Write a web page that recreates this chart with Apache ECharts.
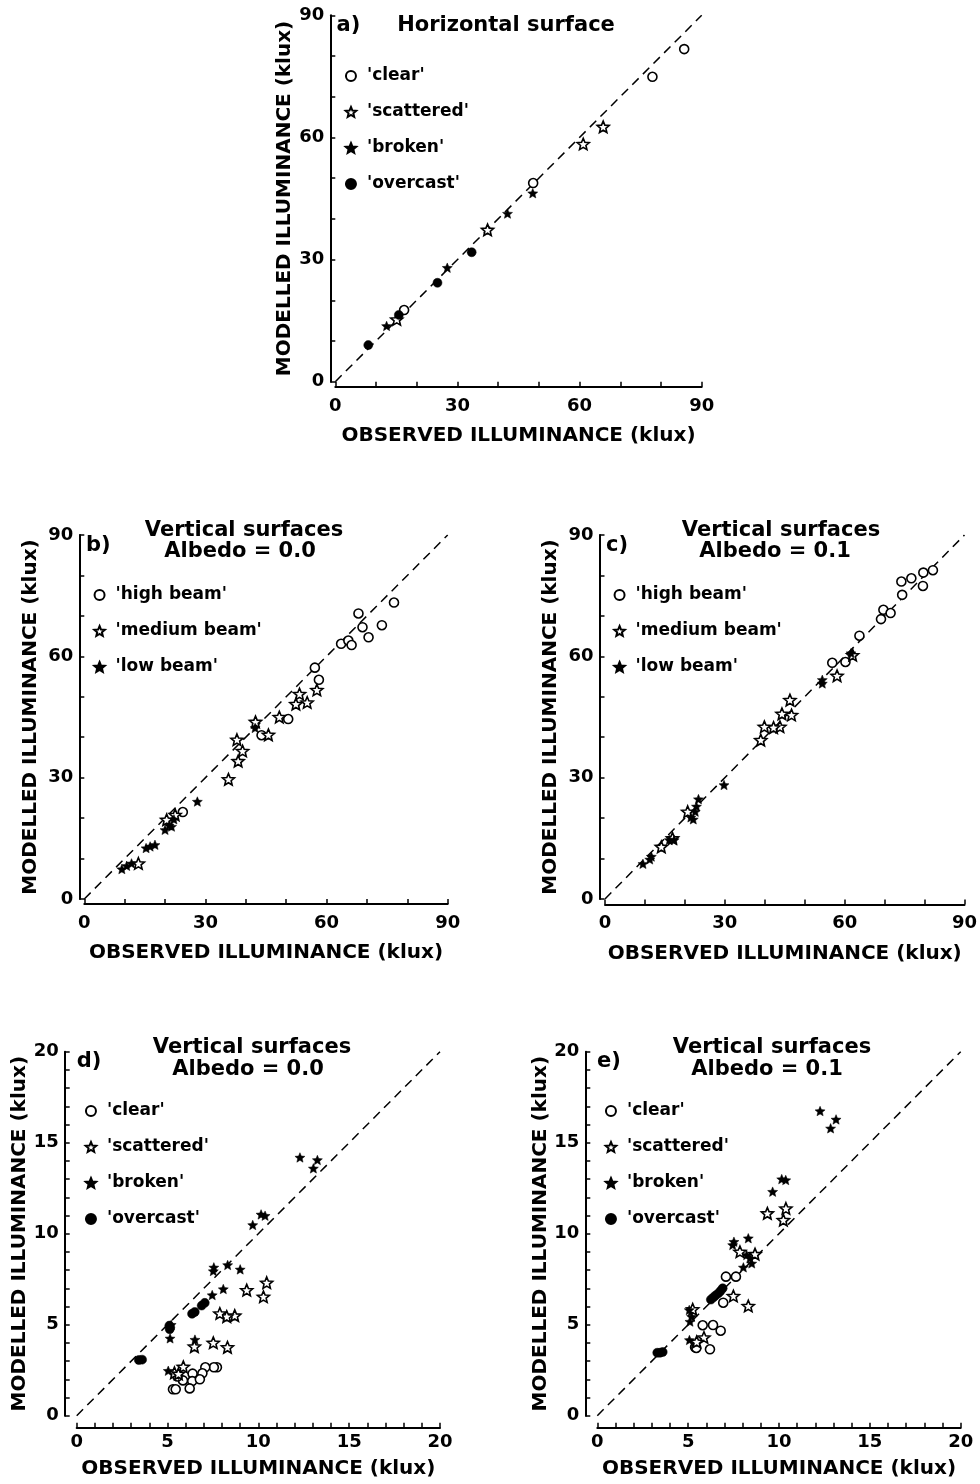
<!DOCTYPE html>
<html><head><meta charset="utf-8">
<script src="https://cdn.jsdelivr.net/npm/echarts@6/dist/echarts.min.js"></script>
<style>html,body{margin:0;padding:0;background:#fff}#c{width:980px;height:1484px}</style>
</head><body><div id="c"></div>
<script>
// ---------- tick labels ----------
const ticks90 = [0, 30, 60, 90];
const ticks20 = [0, 5, 10, 15, 20];
const diag90 = [[0, 0], [90, 90]];
const diag20 = [[0, 0], [20, 20]];

// ---------- series names ----------
const cloudNames = ["'clear'", "'scattered'", "'broken'", "'overcast'"];
const beamNames = ["'high beam'", "'medium beam'", "'low beam'"];

// ---------- panel a) horizontal surface ----------
const aClear = [[85.7, 81.7], [77.9, 74.9], [48.6, 48.8], [16.9, 17.6]];
const aScattered = [[65.8, 62.6], [60.9, 58.4], [37.4, 37.3], [15.1, 15.3]];
const aBroken = [[48.5, 46.3], [42.3, 41.3], [27.5, 28.0], [12.6, 13.7]];
const aOvercast = [[33.5, 31.8], [25.1, 24.3], [8.1, 9.0], [15.6, 16.4]];

// ---------- panel b) vertical, albedo 0.0 ----------
const bHigh = [[76.7, 73.3], [67.9, 70.6], [68.9, 67.2], [73.7, 67.7], [70.4, 64.7], [63.6, 63.1], [65.4, 63.9], [66.2, 62.8], [57.1, 57.2], [58.1, 54.2], [50.5, 44.5], [43.9, 40.5], [24.4, 21.5]];
const bMedium = [[53.3, 50.7], [52.4, 48.2], [55.2, 48.6], [57.6, 51.7], [48.3, 45.0], [45.6, 40.6], [37.8, 39.4], [39.2, 36.6], [38.1, 34.1], [35.7, 29.6], [42.4, 43.8], [20.4, 19.6], [22.5, 20.8], [13.4, 8.8]];
const bLow = [[28.0, 24.1], [42.3, 42.3], [22.2, 19.7], [21.6, 17.9], [20.0, 17.1], [21.0, 18.2], [17.5, 13.4], [16.3, 13.0], [15.3, 12.6], [11.7, 8.8], [10.5, 8.2], [9.3, 7.4]];

// ---------- panel c) vertical, albedo 0.1 ----------
const cHigh = [[82.1, 81.3], [79.7, 80.7], [76.7, 79.3], [74.2, 78.5], [79.6, 77.4], [74.4, 75.2], [69.7, 71.5], [71.5, 70.7], [69.1, 69.2], [63.7, 65.1], [56.9, 58.4], [60.2, 58.6]];
const cMedium = [[62.0, 60.3], [58.1, 55.2], [46.3, 49.2], [46.7, 45.5], [44.3, 45.8], [43.8, 42.6], [42.2, 42.4], [39.9, 42.6], [39.0, 39.3], [20.7, 21.6], [14.1, 12.9], [16.9, 15.0]];
const cLow = [[54.4, 54.2], [54.4, 53.3], [61.6, 60.8], [29.8, 28.2], [23.4, 24.7], [22.9, 22.9], [22.6, 21.6], [21.5, 20.2], [22.1, 19.7], [16.1, 14.6], [17.3, 14.6], [11.6, 10.5], [11.2, 9.8], [9.5, 8.7]];

// ---------- panel d) vertical, albedo 0.0 (low range) ----------
const dClear = [[7.72, 2.66], [7.55, 2.66], [7.08, 2.66], [6.92, 2.33], [6.38, 2.31], [5.85, 1.94], [6.36, 1.9], [6.78, 2.0], [5.55, 2.15], [5.3, 1.45], [5.45, 1.45], [6.22, 1.5]];
const dScattered = [[10.46, 7.31], [10.28, 6.54], [9.36, 6.9], [8.7, 5.5], [8.26, 5.45], [7.88, 5.62], [8.3, 3.76], [7.52, 4.01], [6.48, 3.8], [5.87, 2.69], [5.38, 2.36], [5.6, 2.3]];
const dBroken = [[12.29, 14.19], [13.25, 14.05], [13.03, 13.59], [9.69, 10.48], [10.15, 11.06], [10.37, 10.99], [7.55, 8.15], [7.52, 7.95], [8.31, 8.28], [9.0, 8.04], [8.07, 6.96], [7.46, 6.63], [6.51, 4.18], [5.14, 4.25], [5.04, 2.47], [5.2, 5.0]];
const dOvercast = [[6.88, 6.05], [7.05, 6.2], [6.35, 5.6], [6.5, 5.7], [5.1, 4.95], [5.12, 4.75], [5.15, 4.85], [3.42, 3.06], [3.6, 3.08]];

// ---------- panel e) vertical, albedo 0.1 (low range) ----------
const eClear = [[7.08, 7.64], [7.63, 7.64], [6.93, 6.21], [5.8, 4.97], [6.37, 4.98], [6.79, 4.67], [5.38, 3.76], [5.45, 3.72], [6.2, 3.65]];
const eScattered = [[9.36, 11.12], [10.38, 11.39], [10.24, 10.75], [7.85, 9.01], [8.68, 8.88], [7.49, 6.58], [8.31, 6.03], [5.87, 4.3], [5.47, 4.06], [5.25, 5.85]];
const eBroken = [[12.26, 16.74], [13.14, 16.28], [12.84, 15.79], [10.15, 13.0], [10.37, 12.95], [9.65, 12.31], [8.31, 9.75], [7.52, 9.56], [7.45, 9.38], [8.22, 8.83], [8.4, 8.65], [8.5, 8.37], [8.04, 8.15], [5.06, 5.81], [5.19, 5.44], [5.1, 5.17], [5.07, 4.16]];
const eOvercast = [[6.9, 7.0], [6.78, 6.85], [6.66, 6.72], [6.5, 6.6], [6.39, 6.5], [6.25, 6.38], [3.3, 3.46], [3.45, 3.46], [3.6, 3.5]];

// ---------- texts ----------
const xName = 'OBSERVED ILLUMINANCE (klux)';
const yName = 'MODELLED ILLUMINANCE (klux)';

// ---------- styling ----------
const FONT = 'DejaVu Sans';
const STAR = 'path://M50,0 L63.2,31.8 L97.6,34.5 L71.4,56.9 L79.4,90.5 L50,72.5 L20.6,90.5 L28.6,56.9 L2.4,34.5 L36.8,31.8 Z';
const styles = {
  openCircle: { symbol: 'circle', symbolSize: 9, itemStyle: { color: '#fff', borderColor: '#000', borderWidth: 1.6, opacity: 1 } },
  openStar: { symbol: STAR, symbolSize: 12, itemStyle: { color: '#fff', borderColor: '#000', borderWidth: 1.6, opacity: 1 } },
  fullStar: { symbol: STAR, symbolSize: 10, itemStyle: { color: '#000', borderColor: '#000', borderWidth: 0.5, opacity: 1 } },
  fullCircle: { symbol: 'circle', symbolSize: 9, itemStyle: { color: '#000', borderColor: '#000', borderWidth: 0.5, opacity: 1 } }
};

const panels = [
  { grid: { left: 335.3, top: 15.3, width: 366.4, height: 366.4 }, max: 90, interval: 10, ticks: ticks90, diag: diag90,
    offset: 5, mx: 11, my: 6, gx: 39, gy: 36,
    series: [[cloudNames[0], aClear, 'openCircle'], [cloudNames[1], aScattered, 'openStar'], [cloudNames[2], aBroken, 'fullStar'], [cloudNames[3], aOvercast, 'fullCircle']],
    legend: { left: 344.7, top: 67, names: cloudNames } },
  { grid: { left: 84.3, top: 535, width: 363.4, height: 364 }, max: 90, interval: 10, ticks: ticks90, diag: diag90,
    offset: 5, mx: 10, my: 6, gx: 39, gy: 39,
    series: [[beamNames[0], bHigh, 'openCircle'], [beamNames[1], bMedium, 'openStar'], [beamNames[2], bLow, 'fullStar']],
    legend: { left: 93.3, top: 586, names: beamNames } },
  { grid: { left: 605, top: 535, width: 362.7, height: 364 }, max: 90, interval: 10, ticks: ticks90, diag: diag90,
    offset: 5.5, mx: 10, my: 6, gx: 39, gy: 39,
    series: [[beamNames[0], cHigh, 'openCircle'], [beamNames[1], cMedium, 'openStar'], [beamNames[2], cLow, 'fullStar']],
    legend: { left: 613.3, top: 586, names: beamNames } },
  { grid: { left: 76.7, top: 1051.7, width: 363.3, height: 364 }, max: 20, interval: 1, ticks: ticks20, diag: diag20,
    offset: 12, mx: 6, my: 6, gx: 31, gy: 25,
    series: [[cloudNames[0], dClear, 'openCircle'], [cloudNames[1], dScattered, 'openStar'], [cloudNames[2], dBroken, 'fullStar'], [cloudNames[3], dOvercast, 'fullCircle']],
    legend: { left: 84.7, top: 1102, names: cloudNames } },
  { grid: { left: 597.3, top: 1051.7, width: 363.4, height: 364 }, max: 20, interval: 1, ticks: ticks20, diag: diag20,
    offset: 12, mx: 6, my: 6, gx: 31, gy: 25,
    series: [[cloudNames[0], eClear, 'openCircle'], [cloudNames[1], eScattered, 'openStar'], [cloudNames[2], eBroken, 'fullStar'], [cloudNames[3], eOvercast, 'fullCircle']],
    legend: { left: 604.7, top: 1102, names: cloudNames } }
];

const titles = [
  { t: 'a)', x: 336.5, y: 15, align: 'left' },
  { t: 'Horizontal surface', x: 506, y: 14.8, align: 'center' },
  { t: 'b)', x: 86, y: 535.5, align: 'left' },
  { t: 'Vertical surfaces', x: 244, y: 520, align: 'center' },
  { t: 'Albedo = 0.0', x: 240, y: 541.5, align: 'center' },
  { t: 'c)', x: 606, y: 535.5, align: 'left' },
  { t: 'Vertical surfaces', x: 781, y: 520, align: 'center' },
  { t: 'Albedo = 0.1', x: 775, y: 541.5, align: 'center' },
  { t: 'd)', x: 76.7, y: 1051, align: 'left' },
  { t: 'Vertical surfaces', x: 252, y: 1037.5, align: 'center' },
  { t: 'Albedo = 0.0', x: 248, y: 1059, align: 'center' },
  { t: 'e)', x: 597, y: 1051, align: 'left' },
  { t: 'Vertical surfaces', x: 772, y: 1037.5, align: 'center' },
  { t: 'Albedo = 0.1', x: 767, y: 1059, align: 'center' }
];

function axis(p, isX) {
  return {
    type: 'value', gridIndex: 0, min: 0, max: p.max, interval: p.interval,
    offset: p.offset,
    name: isX ? xName : yName, nameLocation: 'middle', nameGap: isX ? p.gx : p.gy,
    nameTextStyle: { fontFamily: FONT, fontWeight: 'bold', fontSize: 20, color: '#000' },
    axisLine: { show: true, onZero: false, lineStyle: { color: '#000', width: 2 } },
    axisTick: { show: true, inside: true, length: 5, lineStyle: { color: '#000', width: 1.5 } },
    axisLabel: { margin: isX ? p.mx : p.my, fontFamily: FONT, fontWeight: 'bold', fontSize: 18, color: '#000',
      formatter: v => (p.ticks.indexOf(v) >= 0 ? String(v) : '') },
    splitLine: { show: false }
  };
}

const option = { animation: false, backgroundColor: '#fff', grid: [], xAxis: [], yAxis: [], series: [], legend: [], graphic: [] };
panels.forEach((p, i) => {
  option.grid.push(Object.assign({ containLabel: false }, p.grid));
  const xa = axis(p, true); xa.gridIndex = i; option.xAxis.push(xa);
  const ya = axis(p, false); ya.gridIndex = i; option.yAxis.push(ya);
  option.series.push({ type: 'line', name: 'diag' + i, xAxisIndex: i, yAxisIndex: i, data: p.diag, symbol: 'none', silent: true,
    lineStyle: { color: '#000', width: 1.5, type: [9, 6] }, z: 1 });
  p.series.forEach(s => {
    const st = styles[s[2]];
    option.series.push({ type: 'scatter', name: s[0], xAxisIndex: i, yAxisIndex: i, data: s[1],
      symbol: st.symbol, symbolSize: st.symbolSize, symbolKeepAspect: true, itemStyle: st.itemStyle, z: 2,
      emphasis: { disabled: true } });
  });
  option.legend.push({ left: p.legend.left, top: p.legend.top, orient: 'vertical', padding: 0, selectedMode: false,
    data: p.legend.names, itemWidth: 22, itemHeight: 10, itemGap: 18,
    itemStyle: { opacity: 1 },
    textStyle: { fontFamily: FONT, fontWeight: 'bold', fontSize: 17, lineHeight: 18, color: '#000' } });
});
titles.forEach(t => {
  option.graphic.push({ type: 'text', x: t.x, y: t.y, silent: true,
    style: { text: t.t, fill: '#000', font: 'bold 21px "DejaVu Sans"', textAlign: t.align, textVerticalAlign: 'top' } });
});

const chart = echarts.init(document.getElementById('c'), null, { renderer: 'canvas' });
chart.setOption(option);
</script>
</body></html>
